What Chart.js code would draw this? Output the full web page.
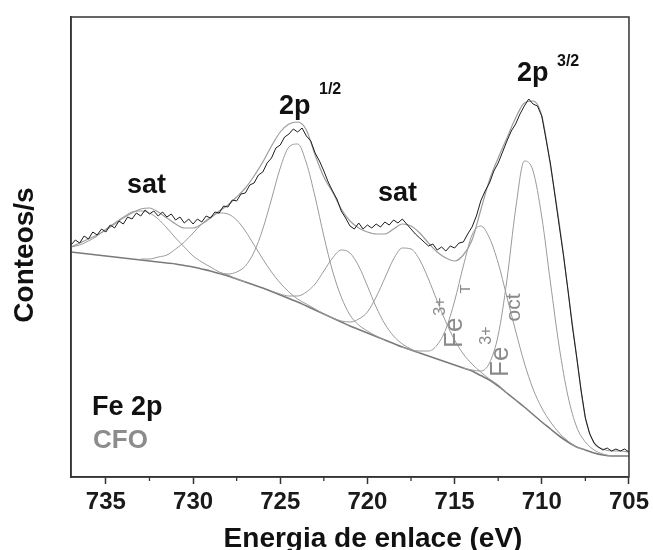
<!DOCTYPE html>
<html>
<head>
<meta charset="utf-8">
<script src="https://cdn.jsdelivr.net/npm/chart.js@4.4.1/dist/chart.umd.min.js"></script>
<style>
  html, body { margin: 0; padding: 0; background: #fff; }
  #wrap { width: 653px; height: 550px; }
</style>
</head>
<body>
<div id="wrap"><canvas id="xps" width="653" height="550"></canvas></div>
<script>
// Fe 2p region, binding energy in eV (axis runs from high to low)
const FONT = '"Liberation Sans", Arial, sans-serif';
const xTickValues = [735, 730, 725, 720, 715, 710, 705];
const xMinorTicks = [732.5, 727.5, 722.5, 717.5, 712.5, 707.5];

// measured spectrum, 0.25 eV steps starting at 737 eV
const dataStart = 737;
const dataStep = 0.25;
const measuredCounts = [
  232, 237, 234, 241,   238, 245, 242, 248,   245, 252, 249, 256,   253, 260, 258, 264,
  261, 267, 263, 266,   261, 265, 260, 263,   257, 260, 254, 258,   253, 258, 255, 261,
  259, 265, 264, 271,   270, 277, 276, 283,   284, 292, 294, 302,   305, 314, 319, 329,
  332, 340, 343, 348,   345, 349, 341, 336,   324, 316, 306, 295,   286, 278, 266, 259,
  251, 248, 254, 248,   252, 249, 253, 250,   255, 252, 257, 254,   258, 253, 248, 243,
  239, 235, 231, 233,   227, 230, 226, 231,   229, 234, 235, 243,   250, 261, 276, 286,
  294, 306, 314, 325,   336, 346, 353, 363,   371, 378, 373, 371,   361, 337, 313, 282,
  251, 221, 187, 151,   120, 87, 59, 43,     34, 30, 27, 29,       26, 28, 26, 28,
  25
];

// fit curves, 0.5 eV steps
const fitStep = 0.5;
const envelopeCounts = [
  230, 234, 238, 242, 247, 253, 259, 264, 268, 269, 265, 259, 253, 249, 249, 253,
  259, 266, 272, 280, 289, 301, 315, 331, 345, 353, 355, 347, 322, 300, 285, 268,
  256, 249, 245, 243, 243, 248, 253, 251, 244, 234, 225, 219, 216, 222, 237, 267,
  297, 319, 339, 359, 374, 376, 361, 311, 254, 187, 120, 59, 34, 28, 26, 26,
  25
];
const backgroundCounts = [
  225, 224, 223, 222, 221, 220, 219, 218, 217, 216, 215, 214, 213, 211.5, 210, 208,
  206, 203.5, 201, 198, 195, 192, 189, 185.5, 182, 178.5, 175, 171, 167, 163, 159, 155,
  151, 147.5, 144, 140.5, 137, 133.5, 130, 127, 124, 121, 118, 115, 112, 109, 106, 101.5,
  97, 91, 84, 77, 70, 62.5, 55, 48, 41, 35, 30, 27, 24, 22, 21, 21,
  21
];

// individual components (start energy, then counts every 0.5 eV)
const componentStart = [737, 733, 728.5, 725.5, 722.5, 718, 714.5];
const satHigh = [230, 232, 236, 241, 248, 254, 260, 265, 266, 264, 258, 249, 239, 230, 221, 215, 210, 205, 202, 198, 195];
const peak728 = [218, 218, 220, 222, 228, 235, 244, 253, 260, 264, 263, 257, 246, 232, 218, 205, 194, 185, 178, 173, 168, 163];
const peak2p12 = [204, 203, 205, 211, 225, 248, 278, 309, 330, 333, 314, 280, 241, 206, 180, 162, 152, 146, 141, 137];
const peak721 = [186, 183, 181, 181, 185, 193, 206, 219, 227, 224, 211, 191, 170, 153, 141, 133, 128, 124];
const satLow = [163, 159, 156, 155, 158, 165, 180, 199, 218, 229, 228, 217, 198, 176, 155, 137, 123, 113, 105, 98, 92, 84];
const feTetra = [130, 127, 126, 126, 132, 148, 176, 211, 242, 251, 239, 214, 180, 146, 114, 88, 69, 55, 44, 36, 30, 27];
const feOcta = [109, 107, 106, 114, 142, 197, 268, 316, 306, 260, 194, 130, 81, 50, 35, 27, 23, 21];
const components = [satHigh, peak728, peak2p12, peak721, satLow, feTetra, feOcta];

function toPoints(counts, start, step) {
  return counts.map((c, i) => ({ x: start - i * step, y: c }));
}

function lineSet(points, color, width, smooth) {
  return {
    data: points,
    borderColor: color,
    borderWidth: width,
    pointRadius: 0,
    fill: false,
    cubicInterpolationMode: smooth ? 'monotone' : 'default',
    tension: 0
  };
}

const datasets = [
  lineSet(toPoints(measuredCounts, dataStart, dataStep), '#1c1c1c', 1, false),
  lineSet(toPoints(envelopeCounts, dataStart, fitStep), '#9c9c9c', 1.2, true)
];
components.forEach((c, i) => {
  datasets.push(lineSet(toPoints(c, componentStart[i], fitStep), '#9a9a9a', 1, true));
});
datasets.push(lineSet(toPoints(backgroundCounts, dataStart, fitStep), '#7a7a7a', 1.6, true));

function drawText(ctx, str, x, y, size, color, weight) {
  ctx.font = (weight || 'bold') + ' ' + size + 'px ' + FONT;
  ctx.fillStyle = color;
  ctx.textAlign = 'left';
  ctx.textBaseline = 'alphabetic';
  ctx.fillText(str, x, y);
}

// vertical "Fe3+ X" site label, reading bottom to top
function siteLabel(ctx, x0, y0, sub, subSize, subShift, subGap) {
  ctx.save();
  ctx.translate(x0, y0);
  ctx.rotate(-Math.PI / 2);
  ctx.fillStyle = '#8a8a8a';
  ctx.textBaseline = 'alphabetic';
  ctx.textAlign = 'left';
  ctx.font = '26px ' + FONT;
  ctx.fillText('Fe', 0, 0);
  let u = ctx.measureText('Fe').width + 2;
  ctx.font = '16px ' + FONT;
  ctx.fillText('3+', u, -17);
  u += ctx.measureText('3+').width + subGap;
  ctx.font = subSize + 'px ' + FONT;
  ctx.fillText(sub, u, subShift);
  ctx.restore();
}

const decorations = {
  id: 'decorations',
  afterDraw(chart) {
    const ctx = chart.ctx;
    const area = chart.chartArea;
    const xs = chart.scales.x;
    ctx.save();

    ctx.strokeStyle = '#333';
    ctx.lineWidth = 1.5;
    ctx.strokeRect(area.left, area.top, area.right - area.left, area.bottom - area.top);

    ctx.lineWidth = 1.3;
    xMinorTicks.forEach(v => {
      const px = xs.getPixelForValue(v);
      ctx.beginPath();
      ctx.moveTo(px, area.bottom);
      ctx.lineTo(px, area.bottom + 4);
      ctx.stroke();
    });

    // peak labels
    drawText(ctx, 'sat', 127, 193, 27, '#111');
    drawText(ctx, 'sat', 378, 201, 27, '#111');
    drawText(ctx, '2p', 279, 114, 27, '#111');
    drawText(ctx, '1/2', 319, 94, 16, '#111');
    drawText(ctx, '2p', 517, 81, 27, '#111');
    drawText(ctx, '3/2', 557, 66, 16, '#111');

    drawText(ctx, 'Fe 2p', 92, 415, 27, '#111');
    drawText(ctx, 'CFO', 93, 448, 26, '#8c8c8c');

    siteLabel(ctx, 462, 348, 'T', 15, 8, 4);
    siteLabel(ctx, 508, 377, 'oct', 21, 12, 5);

    // axis titles
    ctx.font = 'bold 28px ' + FONT;
    ctx.fillStyle = '#111';
    ctx.textAlign = 'center';
    ctx.textBaseline = 'alphabetic';
    ctx.fillText('Energia de enlace (eV)', 373, 547);

    ctx.save();
    ctx.translate(33, 255);
    ctx.rotate(-Math.PI / 2);
    ctx.fillText('Conteos/s', 0, 0);
    ctx.restore();

    ctx.restore();
  }
};

new Chart(document.getElementById('xps'), {
  type: 'line',
  data: { datasets: datasets },
  options: {
    responsive: false,
    animation: false,
    events: [],
    layout: { padding: { top: 17, right: 21, left: 0, bottom: 0 } },
    plugins: { legend: { display: false }, tooltip: { enabled: false } },
    scales: {
      x: {
        type: 'linear',
        reverse: true,
        min: 705,
        max: 737,
        afterBuildTicks: scale => { scale.ticks = xTickValues.map(v => ({ value: v })); },
        afterFit: scale => { scale.height = 73; },
        grid: { drawOnChartArea: false, drawTicks: true, tickLength: 7, tickWidth: 1.5, tickColor: '#333' },
        border: { display: true, color: '#333', width: 1.5 },
        ticks: {
          autoSkip: false,
          maxRotation: 0,
          padding: 4,
          color: '#1a1a1a',
          font: { family: FONT, size: 24, weight: 'bold' },
          callback: v => String(v)
        }
      },
      y: {
        type: 'linear',
        min: 0,
        max: 460,
        afterFit: scale => { scale.width = 71; },
        grid: { display: false },
        border: { display: true, color: '#333', width: 1.5 },
        ticks: { display: false }
      }
    }
  },
  plugins: [decorations]
});
</script>
</body>
</html>
